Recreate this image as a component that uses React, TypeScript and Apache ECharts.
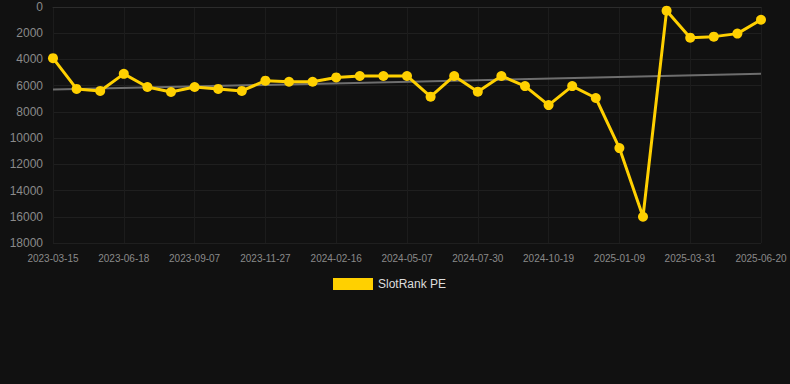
import React, { useEffect, useRef } from "react";
import * as echarts from "echarts";

const categories: string[] = [
  "2023-03-15", "2023-04-15", "2023-05-17", "2023-06-18", "2023-07-15", "2023-08-11",
  "2023-09-07", "2023-10-04", "2023-10-31", "2023-11-27", "2023-12-24", "2024-01-20",
  "2024-02-16", "2024-03-14", "2024-04-10", "2024-05-07", "2024-06-04", "2024-07-02",
  "2024-07-30", "2024-08-26", "2024-09-22", "2024-10-19", "2024-11-14", "2024-12-11",
  "2025-01-09", "2025-02-05", "2025-03-04", "2025-03-31", "2025-04-27", "2025-05-24",
  "2025-06-20",
];

const peValues: number[] = [
  3900, 6250, 6400, 5100, 6100, 6480, 6100, 6250, 6400, 5620, 5700, 5700,
  5370, 5260, 5260, 5260, 6840, 5260, 6460, 5260, 6030, 7480, 6030, 6940,
  10760, 16000, 280, 2340, 2260, 2030, 970,
];

const trendStart = 6300;
const trendEnd = 5100;

const yTicks = { min: 0, max: 18000, interval: 2000 };

export default function App() {
  const ref = useRef<HTMLDivElement>(null);
  useEffect(() => {
    document.body.style.margin = "0";
    if (!ref.current) return;
    const chart = echarts.init(ref.current, undefined, { renderer: "svg" });
    const trendData = categories.map((_, i) =>
      i === 0 ? trendStart : i === categories.length - 1 ? trendEnd : null
    );
    chart.setOption({
      animation: false,
      backgroundColor: "#111111",
      grid: { left: 53, right: 29, top: 7, bottom: 141, containLabel: false },
      legend: {
        show: true,
        top: 273,
        left: 328,
        itemWidth: 40,
        itemHeight: 12,
        data: [{ name: "SlotRank PE", icon: "rect" }],
        textStyle: { color: "#dddddd", fontSize: 12, fontFamily: "Arial, Liberation Sans, sans-serif" },
      },
      xAxis: {
        type: "category",
        data: categories,
        boundaryGap: false,
        axisLine: { show: true, lineStyle: { color: "#2c2c2c" } },
        axisTick: { show: false },
        axisLabel: {
          interval: 2,
          color: "#8a8a8a",
          fontSize: 10,
          margin: 10,
          fontFamily: "Arial, Liberation Sans, sans-serif",
        },
        splitLine: { show: true, interval: 2, lineStyle: { color: "#1c1c1c" } },
      },
      yAxis: {
        type: "value",
        inverse: true,
        min: yTicks.min,
        max: yTicks.max,
        interval: yTicks.interval,
        axisLine: { show: false },
        axisTick: { show: false },
        axisLabel: {
          color: "#8a8a8a",
          fontSize: 12,
          margin: 10,
          formatter: (v: number) => String(v),
          fontFamily: "Arial, Liberation Sans, sans-serif",
        },
        splitLine: { show: true, lineStyle: { color: "#1f1f1f" } },
      },
      series: [
        {
          name: "SlotRank PE",
          type: "line",
          data: peValues,
          color: "#FFD000",
          lineStyle: { width: 3, color: "#FFD000" },
          itemStyle: { color: "#FFD000" },
          symbol: "circle",
          symbolSize: 10,
          z: 3,
        },
        {
          name: "trend",
          type: "line",
          data: trendData,
          connectNulls: true,
          symbol: "none",
          lineStyle: { width: 2, color: "#6e6e6e" },
          z: 2,
        },
      ],
    });
    return () => chart.dispose();
  }, []);
  return (
    <div
      ref={ref}
      style={{ position: "fixed", left: 0, top: 0, width: 790, height: 384 }}
    />
  );
}
